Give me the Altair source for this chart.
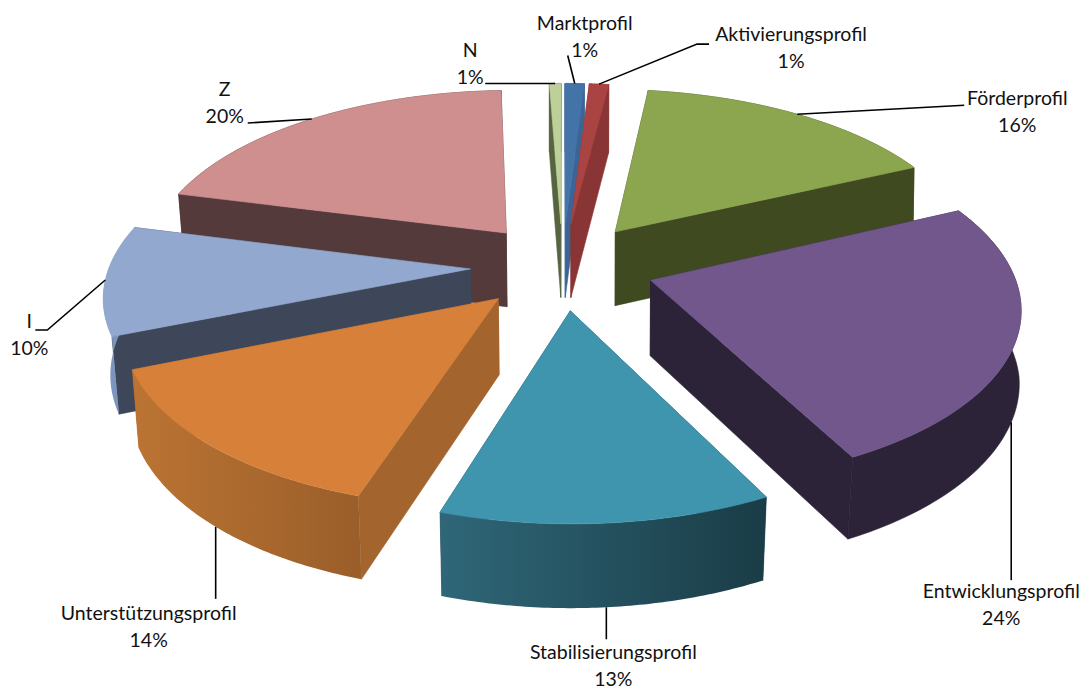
import math
import altair as alt
import pandas as pd

# ---- data ----
categories = ["Marktprofil", "Aktivierungsprofil", "Förderprofil", "Entwicklungsprofil",
              "Stabilisierungsprofil", "Unterstützungsprofil", "I", "Z", "N"]
values = [1.0, 1.0, 16.0, 24.3, 12.4, 13.9, 10.1, 20.3, 0.6]
shown = ["1%", "1%", "16%", "24%", "13%", "14%", "10%", "20%", "1%"]

# ---- styling ----
top_col = ["#4473A8", "#A94442", "#8BA64F", "#72578D", "#4095AE", "#D6803A", "#92A8CF", "#CE8F8E", "#BDD09A"]
edge_col = ["#3A6596", "#8A3535", "#3F4A20", "#2C2338", "#1F4A57", "#A3652D", "#3E4759", "#543A3A", "#566440"]
rim_col = [("#3A6596", "#3A6596"), ("#8A3535", "#8A3535"), ("#3F4A20", "#3F4A20"), ("#2C2338", "#2C2338"),
           ("#2F6778", "#1A3C46"), ("#BB7433", "#9A5E2A"), ("#8199C2", "#7089B5"), ("#543A3A", "#543A3A"),
           ("#566440", "#566440")]
paint_order = [7, 2, 8, 0, 1, 6, 3, 5, 4]

# ---- 3-D pie model ----
W, H, M = 1075, 681, 8
CX, CY, A, B, K, EXPLODE, WALL, BOTTOM_CX, BOTTOM_SHRINK = 562.5, 266, 361, 170.4, 0.1365, 0.255, 75, 550, 0.016


def project(u, v, low=False):
    s = 1 / (1 - K * v)
    x, y = CX + A * u * s, CY + B * v * s
    if low:
        taper = 1.0 if x < BOTTOM_CX else min(1.0, max(0.2, v))
        x, y = x - (x - BOTTOM_CX) * BOTTOM_SHRINK * taper, y + WALL * (1 + 0.6 * (s - 1))
    return x, y


total = sum(values)
spans, acc = [], 0.0
for val in values:
    spans.append((acc, acc + val * 360 / total))
    acc += val * 360 / total


def ground(i, ang, radius=1.0):
    a0, a1 = spans[i]
    mid = math.radians((a0 + a1) / 2)
    r = math.radians(ang)
    return (EXPLODE * math.sin(mid) + radius * math.sin(r),
            -EXPLODE * math.cos(mid) - radius * math.cos(r))


def rim(i, low=False, n=70):
    a0, a1 = spans[i]
    return [project(*ground(i, a0 + (a1 - a0) * j / n), low) for j in range(n + 1)]


def apex(i, low=False):
    return project(*ground(i, 0, 0.0), low)


X = alt.X("x:Q", axis=None, scale=alt.Scale(domain=[M, M + W], nice=False, zero=False))
Y = alt.Y("y:Q", axis=None, scale=alt.Scale(domain=[M, M + H], reverse=True, nice=False, zero=False))


def poly(points, fill, stroke=True):
    df = pd.DataFrame({"x": [p[0] for p in points] + [points[0][0]],
                       "y": [p[1] for p in points] + [points[0][1]],
                       "i": range(len(points) + 1)})
    if stroke:
        mark = alt.Chart(df).mark_line(fill=fill, stroke=fill, strokeWidth=0.6, interpolate="linear")
    else:
        mark = alt.Chart(df).mark_line(fill=fill, strokeWidth=0, interpolate="linear")
    return mark.encode(x=X, y=Y, order=alt.Order("i:Q"))


layers = []
for i in paint_order:
    a0, a1 = spans[i]
    top, low = rim(i), rim(i, True)
    ax, al = apex(i), apex(i, True)
    start_wall = [ax, top[0], low[0], al]
    end_wall = [ax, top[-1], low[-1], al]
    right_side = (a0 + a1) / 2 < 180
    walls = [start_wall, end_wall] if right_side else [end_wall, start_wall]
    for wl in walls:
        layers.append(poly(wl, edge_col[i]))
    c0, c1 = rim_col[i]
    if c0 == c1:
        layers.append(poly(top + low[::-1], c0))
    else:
        grad = alt.LinearGradient(gradient="linear", x1=0, x2=1, y1=0, y2=0,
                                  stops=[alt.GradientStop(offset=0, color=c0), alt.GradientStop(offset=1, color=c1)])
        layers.append(poly(top + low[::-1], grad, stroke=False))
    layers.append(poly([ax] + top, top_col[i]))

# ---- leaders and labels: attached to the slice rim, offsets relative to it ----
# index: (angle shift from bisector, on lower rim?, leader offsets, label offset)
annot = {
    0: (0, False, [(-7, -28)], (10, -60)),
    1: (0, False, [(98, -40), (110, -40)], (192, -49)),
    2: (0, False, [(167, -9)], (220, -15)),
    3: (1.5, True, [(0, 158)], (-10, 170)),
    4: (0, True, [(0, 32)], (7, 46)),
    5: (0, True, [(0, 72)], (-67, 87)),
    6: (0.1, False, [(-58, 50), (-70, 50)], (-76, 42)),
    7: (0, False, [(-64, 4)], (-87, -29)),
    8: (0, False, [(-70, 0)], (-85, -32)),
}
rows = []
for i, (shift, lower, leader, lab) in annot.items():
    a0, a1 = spans[i]
    p0 = project(*ground(i, (a0 + a1) / 2 + shift), lower)
    pts = [p0] + [(p0[0] + dx, p0[1] + dy) for dx, dy in leader]
    df = pd.DataFrame({"x": [p[0] for p in pts], "y": [p[1] for p in pts], "i": range(len(pts))})
    layers.append(alt.Chart(df).mark_line(color="black", strokeWidth=1.6).encode(x=X, y=Y, order=alt.Order("i:Q")))
    lx, ly = p0[0] + lab[0], p0[1] + lab[1]
    rows.append({"x": lx, "y": ly, "t": categories[i]})
    rows.append({"x": lx, "y": ly + 27, "t": shown[i]})

layers.append(alt.Chart(pd.DataFrame(rows)).mark_text(font="Lato", fontSize=19.5, color="#111111", align="center", baseline="middle")
              .encode(x=X, y=Y, text="t:N"))

chart = alt.layer(*layers).properties(
    width=W, height=H, padding=0, autosize=alt.AutoSizeParams(type="none"), background="white"
).configure_view(stroke=None)

chart.save("out.html", embed_options={"renderer": "svg", "actions": False})
